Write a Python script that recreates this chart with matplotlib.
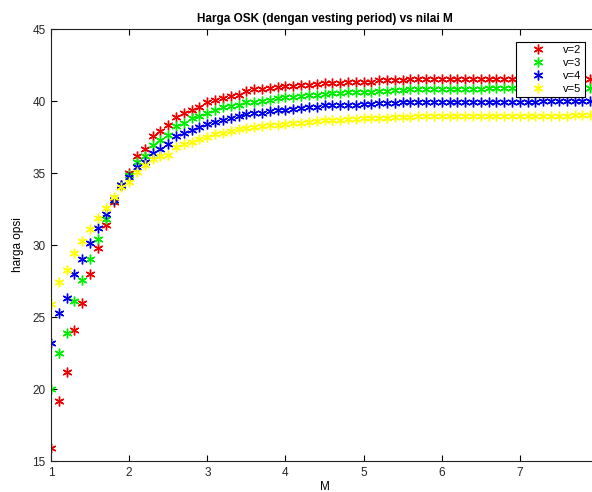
import matplotlib
matplotlib.use("Agg")
import matplotlib.pyplot as plt

plt.rcParams['font.family'] = ['Liberation Sans', 'DejaVu Sans']

M = [1.0, 1.1, 1.2, 1.3, 1.4, 1.5, 1.6, 1.7, 1.8, 1.9,
     2.0, 2.1, 2.2, 2.3, 2.4, 2.5, 2.6, 2.7, 2.8, 2.9,
     3.0, 3.1, 3.2, 3.3, 3.4, 3.5, 3.6, 3.7, 3.8, 3.9,
     4.0, 4.1, 4.2, 4.3, 4.4, 4.5, 4.6, 4.7, 4.8, 4.9,
     5.0, 5.1, 5.2, 5.3, 5.4, 5.5, 5.6, 5.7, 5.8, 5.9,
     6.0, 6.1, 6.2, 6.3, 6.4, 6.5, 6.6, 6.7, 6.8, 6.9,
     7.0, 7.1, 7.2, 7.3, 7.4, 7.5, 7.6, 7.7, 7.8, 7.9, 8.0]

v2 = [15.9, 19.2, 21.2, 24.1, 26.0, 28.0, 29.8, 31.4, 33.0, 34.2,
      35.0, 36.2, 36.7, 37.6, 37.9, 38.3, 38.9, 39.2, 39.4, 39.6,
      39.9, 40.1, 40.2, 40.35, 40.45, 40.7, 40.8, 40.85, 40.9, 41.0,
      41.05, 41.05, 41.1, 41.1, 41.15, 41.25, 41.25, 41.25, 41.3, 41.3,
      41.3, 41.35, 41.45, 41.45, 41.45, 41.45, 41.5, 41.5, 41.5, 41.5,
      41.5, 41.5, 41.5, 41.5, 41.5, 41.52, 41.52, 41.52, 41.52, 41.52,
      41.52, 41.52, 41.52, 41.52, 41.52, 41.55, 41.55, 41.55, 41.55, 41.55, 41.55]

v3 = [20.0, 22.5, 23.9, 26.1, 27.6, 29.0, 30.4, 31.8, 33.1, 34.2,
      34.85, 35.75, 36.2, 36.95, 37.3, 37.65, 38.25, 38.5, 38.8, 38.95,
      39.2, 39.4, 39.55, 39.65, 39.75, 39.9, 39.95, 40.0, 40.1, 40.2,
      40.25, 40.3, 40.35, 40.4, 40.45, 40.5, 40.55, 40.55, 40.6, 40.6,
      40.65, 40.65, 40.7, 40.7, 40.75, 40.75, 40.8, 40.8, 40.8, 40.85,
      40.85, 40.85, 40.85, 40.85, 40.85, 40.85, 40.9, 40.9, 40.9, 40.9,
      40.9, 40.9, 40.9, 40.9, 40.9, 40.9, 40.9, 40.9, 40.9, 40.9, 40.9]

v4 = [23.2, 25.25, 26.3, 28.0, 29.0, 30.15, 31.2, 32.15, 33.1, 34.2,
      34.7, 35.4, 35.75, 36.4, 36.65, 37.0, 37.55, 37.75, 38.0, 38.2,
      38.4, 38.55, 38.7, 38.85, 38.95, 39.1, 39.15, 39.2, 39.3, 39.35,
      39.4, 39.45, 39.5, 39.55, 39.6, 39.7, 39.7, 39.72, 39.75, 39.75,
      39.78, 39.8, 39.85, 39.85, 39.87, 39.9, 39.9, 39.92, 39.92, 39.92,
      39.93, 39.93, 39.93, 39.94, 39.94, 39.95, 39.95, 39.95, 39.95, 39.96,
      39.96, 39.96, 39.96, 39.97, 39.97, 39.97, 39.97, 39.98, 39.98, 39.98, 39.98]

v5 = [25.9, 27.45, 28.25, 29.45, 30.25, 31.1, 31.85, 32.6, 33.35, 34.0,
      34.4, 35.05, 35.55, 35.95, 36.15, 36.25, 36.8, 37.0, 37.15, 37.35,
      37.5, 37.7, 37.8, 37.9, 38.05, 38.15, 38.2, 38.25, 38.3, 38.35,
      38.4, 38.45, 38.5, 38.55, 38.6, 38.65, 38.7, 38.7, 38.75, 38.75,
      38.8, 38.8, 38.85, 38.85, 38.9, 38.9, 38.9, 38.95, 38.95, 38.95,
      38.95, 38.95, 38.95, 38.97, 38.97, 38.97, 38.97, 38.97, 38.98, 38.98,
      38.98, 38.98, 38.98, 38.99, 38.99, 38.99, 38.99, 39.0, 39.0, 39.0, 39.0]

series = [v2, v3, v4, v5]
labels = ['v=2', 'v=3', 'v=4', 'v=5']
colors = ['#ee0000', '#00ee00', '#0000ee', '#ffff00']

x_ticks = [1, 2, 3, 4, 5, 6, 7]
y_ticks = [15, 20, 25, 30, 35, 40, 45]

fig = plt.figure(figsize=(5.92, 4.92), dpi=100)
ax = fig.add_axes([51/592, 31/492, (598-51)/592, (461-29)/492])

asterisk = (6, 2, 0)
for vals, lab, col in zip(series, labels, colors):
    ax.plot(M, vals, linestyle='none', marker=asterisk, markersize=7,
            markeredgewidth=1.0, color=col, label=lab)

ax.set_xlim(1, 8)
ax.set_ylim(15, 45)
ax.set_xticks(x_ticks)
ax.set_yticks(y_ticks)
ax.tick_params(direction='in', length=4, width=0.8, top=True, right=True,
               labelsize=8.5, labelcolor='#262626', pad=4)
for s in ax.spines.values():
    s.set_linewidth(0.8)
    s.set_color('#222222')

ax.set_title('Harga OSK (dengan vesting period) vs nilai M', fontsize=8.5,
             fontweight='bold', pad=5)
ax.set_xlabel('M', fontsize=8.5, labelpad=2)
ax.set_ylabel('harga opsi', fontsize=8.5, labelpad=6)

leg = ax.legend(loc='upper right', bbox_to_anchor=(585/592, 1 - 42/492),
                bbox_transform=fig.transFigure, fancybox=False,
                edgecolor='black', fontsize=8, handlelength=3.4,
                handletextpad=0.6, labelspacing=0.25, borderpad=0.3,
                borderaxespad=0, markerfirst=True, framealpha=1)
leg.get_frame().set_linewidth(0.8)

fig.savefig('out.png', dpi=100)
